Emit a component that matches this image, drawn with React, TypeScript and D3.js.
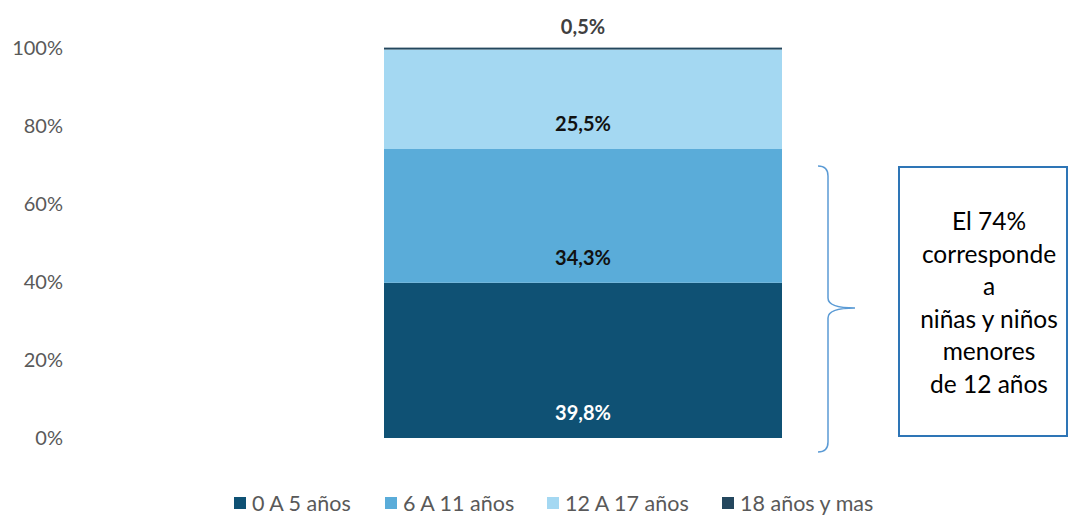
import React from "react";
import * as d3 from "d3";

const categories = ["0 A 5 años", "6 A 11 años", "12 A 17 años", "18 años y mas"];
const values = [39.8, 34.3, 25.5, 0.5];
const valueLabels = ["39,8%", "34,3%", "25,5%", "0,5%"];
const colors = ["#0F5174", "#5AACD9", "#A4D8F2", "#24475E"];
const labelColors = ["#FFFFFF", "#111111", "#111111", "#404040"];
const yTicks = [0, 20, 40, 60, 80, 100];
const noteLines = ["El 74%", "corresponde", "a", "niñas y niños", "menores", "de 12 años"];

const W = 1070;
const H = 515;
const FONT = "Lato, 'Open Sans', sans-serif";

export default function App() {
  const y = d3.scaleLinear().domain([0, 100]).range([438, 48]);
  const x = d3.scaleBand().domain(["all"]).range([384, 782]).padding(0);
  const stack = d3.stack<Record<string, number>>().keys(categories)([
    Object.fromEntries(categories.map((c, i) => [c, values[i]])) as Record<string, number>,
  ]);
  const bx = x("all")!;
  const bw = x.bandwidth();

  const legendX = [234, 385, 547, 722];

  return (
    <svg width={W} height={H} style={{ position: "absolute", left: 0, top: 0, background: "#fff" }} fontFamily={FONT}>
      {yTicks.map((t) => (
        <text key={t} x={63} y={y(t)} dy="0.35em" textAnchor="end" fontSize={20} fill="#595959">
          {t}%
        </text>
      ))}
      {stack.map((s, i) => {
        const [y0, y1] = s[0];
        const top = y(y1);
        const bottom = y(y0);
        return (
          <rect key={categories[i]} x={bx} y={top} width={bw} height={Math.max(bottom - top, 0)} fill={colors[i]} />
        );
      })}
      {stack.map((s, i) => {
        const [y0, y1] = s[0];
        const isLast = i === stack.length - 1;
        const ly = isLast ? y(y1) - 14 : y(y0) - 18;
        return (
          <text
            key={"l" + i}
            x={bx + bw / 2}
            y={ly}
            textAnchor="middle"
            fontSize={20}
            fontWeight="bold"
            fill={labelColors[i]}
          >
            {valueLabels[i]}
          </text>
        );
      })}
      {/* brace */}
      <path
        d="M818,166 Q828,166 828,176 L828,298 Q828,308 855,308 Q828,308 828,318 L828,442 Q828,452 818,452"
        fill="none"
        stroke="#5B9BD5"
        strokeWidth={1.5}
      />
      <rect x={899} y={167} width={168} height={269} fill="#fff" stroke="#2E75B6" strokeWidth={2} />
      {noteLines.map((t, i) => (
        <text key={t} x={989} y={230 + i * 32.5} textAnchor="middle" fontSize={24.5} fill="#000">
          {t}
        </text>
      ))}
      {categories.map((c, i) => (
        <g key={c}>
          <rect x={legendX[i]} y={497} width={12} height={12} fill={colors[i]} />
          <text x={legendX[i] + 18} y={503} dy="0.35em" fontSize={21.5} fill="#595959">
            {c}
          </text>
        </g>
      ))}
    </svg>
  );
}
